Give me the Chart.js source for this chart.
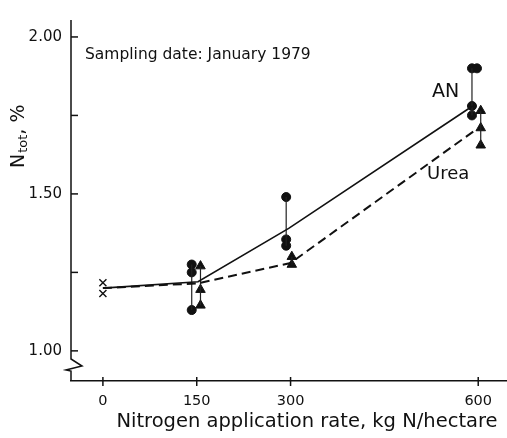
<!DOCTYPE html>
<html>
<head>
<meta charset="utf-8">
<script src="https://cdn.jsdelivr.net/npm/chart.js@4/dist/chart.umd.min.js"></script>
<style>
  html, body { margin: 0; padding: 0; background: #fff; }
</style>
</head>
<body>
<canvas id="chart" width="507" height="438"></canvas>
<script>
const rates = [0, 150, 300, 600];
const yTicks = [1.0, 1.25, 1.5, 1.75, 2.0];
const yLabelled = [1.0, 1.5, 2.0];

// mean lines
const anMeanX = [0, 152, 297, 591];
const anMean = [1.20, 1.22, 1.39, 1.78];
const ureaMeanX = [0, 152, 300, 593];
const ureaMean = [1.20, 1.215, 1.28, 1.70];

// replicates
const controlX = [0, 0];
const controlY = [1.217, 1.183];
const anRepX = [142, 142, 142, 293, 293, 293, 590, 598, 590, 590];
const anRepY = [1.275, 1.25, 1.13, 1.49, 1.355, 1.335, 1.90, 1.90, 1.78, 1.75];
const ureaRepX = [156, 156, 156, 302, 302, 604, 604, 604];
const ureaRepY = [1.27, 1.195, 1.145, 1.30, 1.275, 1.765, 1.71, 1.655];

const FONT = "'DejaVu Sans', sans-serif";

const toPoints = (xs, ys) => xs.map((x, i) => ({ x: x, y: ys[i] }));

// vertical bar from min to max replicate at each rate
const rangeLines = (xs, ys) => {
  const out = [];
  rates.slice(1).forEach((r) => {
    const idx = xs.map((v, i) => i).filter((i) => Math.abs(xs[i] - r) < 25);
    if (!idx.length) return;
    const vals = idx.map((i) => ys[i]);
    const bx = xs[idx[0]];
    out.push({ x: bx, y: Math.min(...vals) });
    out.push({ x: bx, y: Math.max(...vals) });
    out.push({ x: bx, y: null });
  });
  return out;
};

const decor = {
  id: "decor",
  afterDraw(chart) {
    const { ctx, scales: { x, y }, chartArea } = chart;
    const ax = chartArea.left;
    ctx.save();
    ctx.strokeStyle = "#111";
    ctx.lineWidth = 1.5;

    // y axis with break
    ctx.beginPath();
    ctx.moveTo(ax, chartArea.top);
    ctx.lineTo(ax, 359);
    ctx.lineTo(ax + 11, 366);
    ctx.lineTo(ax - 5, 370);
    ctx.lineTo(ax, 371);
    ctx.lineTo(ax, chartArea.bottom);
    ctx.stroke();

    // inward y ticks
    yTicks.forEach((v) => {
      const py = y.getPixelForValue(v);
      ctx.beginPath();
      ctx.moveTo(ax, py);
      ctx.lineTo(ax + 7, py);
      ctx.stroke();
    });

    // x ticks across the axis
    rates.forEach((v) => {
      const px = x.getPixelForValue(v);
      ctx.beginPath();
      ctx.moveTo(px, chartArea.bottom - 4);
      ctx.lineTo(px, chartArea.bottom + 5);
      ctx.stroke();
    });

    // y title N_tot, %
    ctx.fillStyle = "#111";
    ctx.translate(24, 168);
    ctx.rotate(-Math.PI / 2);
    ctx.textBaseline = "alphabetic";
    ctx.textAlign = "left";
    ctx.font = "19px " + FONT;
    ctx.fillText("N", 0, 0);
    let w = ctx.measureText("N").width;
    ctx.font = "13px " + FONT;
    ctx.fillText("tot", w + 1, 3);
    w += ctx.measureText("tot").width + 1;
    ctx.font = "19px " + FONT;
    ctx.fillText(", %", w, 0);
    ctx.setTransform(1, 0, 0, 1, 0, 0);

    // annotations
    ctx.textBaseline = "middle";
    ctx.font = "15.5px " + FONT;
    ctx.fillText("Sampling date: January 1979", 85, 55);
    ctx.font = "19px " + FONT;
    ctx.fillText("AN", 432, 92);
    ctx.font = "18px " + FONT;
    ctx.fillText("Urea", 427, 174);

    // x axis title
    ctx.font = "19.5px " + FONT;
    ctx.textAlign = "center";
    ctx.fillText("Nitrogen application rate, kg N/hectare", 307, 422);
    ctx.restore();
  }
};

new Chart(document.getElementById("chart"), {
  type: "scatter",
  data: {
    datasets: [
      {
        label: "AN",
        type: "line",
        data: toPoints(anMeanX, anMean),
        borderColor: "#111",
        borderWidth: 1.6,
        pointRadius: 0,
        fill: false,
      },
      {
        label: "Urea",
        type: "line",
        data: toPoints(ureaMeanX, ureaMean),
        borderColor: "#111",
        borderWidth: 2,
        borderDash: [9, 5],
        pointRadius: 0,
        fill: false,
      },
      {
        label: "AN range",
        type: "line",
        data: rangeLines(anRepX, anRepY),
        borderColor: "#222",
        borderWidth: 1.2,
        pointRadius: 0,
        spanGaps: false,
      },
      {
        label: "Urea range",
        type: "line",
        data: rangeLines(ureaRepX, ureaRepY),
        borderColor: "#222",
        borderWidth: 1.2,
        pointRadius: 0,
        spanGaps: false,
      },
      {
        label: "AN replicates",
        data: toPoints(anRepX, anRepY),
        pointStyle: "circle",
        pointRadius: 4.5,
        backgroundColor: "#111",
        borderColor: "#111",
      },
      {
        label: "Urea replicates",
        data: toPoints(ureaRepX, ureaRepY),
        pointStyle: "triangle",
        pointRadius: 5.5,
        backgroundColor: "#111",
        borderColor: "#111",
      },
      {
        label: "Control",
        data: toPoints(controlX, controlY),
        pointStyle: "crossRot",
        pointRadius: 5,
        borderWidth: 1.4,
        borderColor: "#111",
      },
    ],
  },
  options: {
    responsive: false,
    animation: false,
    layout: { autoPadding: false, padding: { top: 20, right: 0, left: 0, bottom: 0 } },
    plugins: {
      legend: { display: false },
      tooltip: { enabled: false },
    },
    scales: {
      x: {
        type: "linear",
        min: -51,
        max: 646,
        afterFit: (s) => { s.height = 57; },
        afterBuildTicks: (s) => { s.ticks = rates.map((v) => ({ value: v })); },
        grid: { display: false, drawTicks: false },
        border: { display: true, color: "#111", width: 1.5 },
        ticks: {
          padding: 12,
          color: "#111",
          font: { family: FONT, size: 14.5 },
          maxRotation: 0,
          callback: (v) => String(v),
        },
      },
      y: {
        type: "linear",
        min: 0.904,
        max: 2.054,
        afterFit: (s) => { s.width = 71; },
        afterBuildTicks: (s) => { s.ticks = yTicks.map((v) => ({ value: v })); },
        grid: { display: false, drawTicks: false },
        border: { display: false },
        ticks: {
          padding: 9,
          color: "#111",
          font: { family: FONT, size: 15 },
          callback: (v) => (yLabelled.includes(v) ? v.toFixed(2) : ""),
        },
      },
    },
  },
  plugins: [decor],
});
</script>
</body>
</html>
